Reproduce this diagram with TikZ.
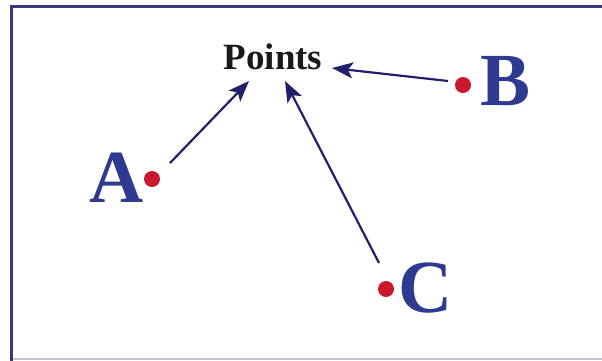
\documentclass[tikz,border=0pt]{standalone}
\usepackage{fontspec}
\setmainfont{Liberation Serif}
\usetikzlibrary{arrows.meta}
\definecolor{frame}{HTML}{3B3878}
\definecolor{framelight}{HTML}{C4C4D8}
\definecolor{letter}{HTML}{2E3A8F}
\definecolor{dotred}{HTML}{C8192E}
\definecolor{arrowc}{HTML}{20216A}
\tikzset{
  biglabel/.style={anchor=base, inner sep=0pt, text=letter, font=\fontsize{75}{75}\selectfont\bfseries},
  ptlabel/.style={anchor=base, inner sep=0pt, text=black!90, font=\fontsize{37}{37}\selectfont\bfseries},
  dotmark/.style={circle, fill=dotred, draw=none, minimum size=16pt, inner sep=0pt},
  arr/.style={draw=arrowc, line width=2.2pt, -{Stealth[length=21pt, width=16pt, inset=5pt]}},
}
\begin{document}
\begin{tikzpicture}[x=1pt, y=-1pt]
\useasboundingbox (0,0) rectangle (602,360);
\fill[white] (0,0) rectangle (602,360);
% frame
\draw[framelight, line width=1.5pt] (11,359) -- (610,359);
\draw[frame, line width=3pt] (11,365) -- (11,6) -- (610,6);
% labels
\node[ptlabel] (pts) at (273,69) {Points};
\node[biglabel] (A) at (117,202) {A};
\node[biglabel] (B) at (506,105) {B};
\node[biglabel] (C) at (426,312) {C};
% dots
\node[dotmark] (dA) at (152,179) {};
\node[dotmark] (dB) at (463,85) {};
\node[dotmark] (dC) at (386,289) {};
% arrow ends
\coordinate (sA) at (170,163);
\coordinate (tA) at (249,81);
\coordinate (sB) at (448,81);
\coordinate (tB) at (332,68);
\coordinate (sC) at (379,263);
\coordinate (tC) at (285,81);
\draw[arr] (sA) -- (tA);
\draw[arr] (sB) -- (tB);
\draw[arr] (sC) -- (tC);
\end{tikzpicture}
\end{document}
